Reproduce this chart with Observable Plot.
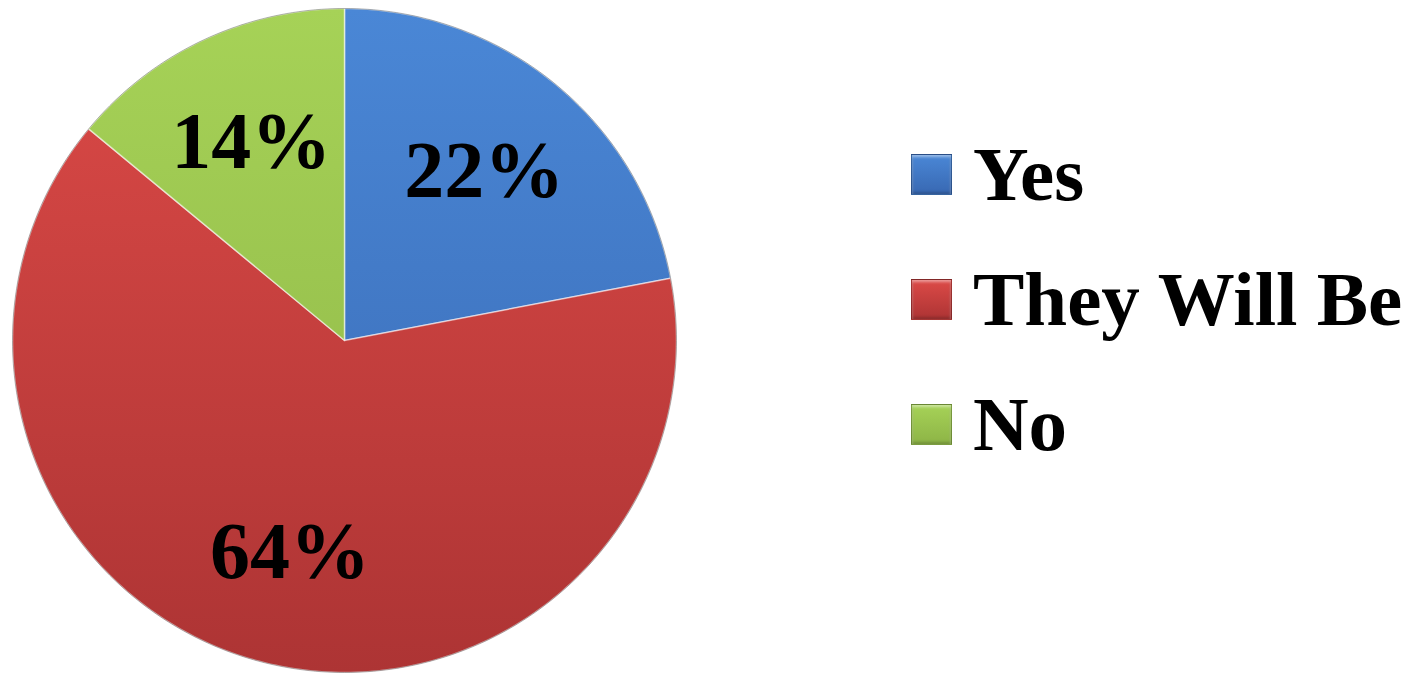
<!DOCTYPE html>
<html>
<head>
<meta charset="utf-8">
<script src="https://cdn.jsdelivr.net/npm/d3@7"></script>
<script src="https://cdn.jsdelivr.net/npm/@observablehq/plot@0.6"></script>
<style>
  html, body { margin: 0; padding: 0; background: #fff; }
  #wrap { position: relative; width: 1415px; height: 673px; overflow: hidden; }
  #legend { position: absolute; left: 911px; top: 112px; font-family: "Liberation Serif", serif; font-weight: bold; font-size: 77px; color: #000; }
  .item { display: flex; align-items: center; height: 125px; }
  .sw { width: 41px; height: 41px; margin-right: 21px; box-sizing: border-box; border: 1px solid rgba(0,0,0,0.25); box-shadow: inset 0 2px 3px rgba(255,255,255,0.45), inset 0 -2px 3px rgba(0,0,0,0.2); }
  .lab { line-height: 1; position: relative; top: 0px; }
</style>
</head>
<body>
<div id="wrap"><div id="legend"></div></div>
<script>
// Data
const categories = ["Yes", "They Will Be", "No"];
const values = [22, 64, 14];
const labels = ["22%", "64%", "14%"];
const colorsTop = ["#4A87D6", "#DC4A47", "#A6D257"];
const colorsBottom = ["#3868B2", "#AD3434", "#8DB446"];

const total = d3.sum(values);
const ends = d3.cumsum(values);
const slices = categories.map((c, i) => {
  const a0 = (ends[i] - values[i]) / total * 2 * Math.PI;
  const a1 = ends[i] / total * 2 * Math.PI;
  return {category: c, value: values[i], label: labels[i], a0, a1, i};
});

// arc polygons in unit coordinates (screen oriented: y down), clockwise from 12 o'clock
function slicePolygon(s) {
  const pts = [[0, 0]];
  const n = Math.max(8, Math.ceil((s.a1 - s.a0) / (Math.PI / 180)));
  for (let k = 0; k <= n; k++) {
    const a = s.a0 + (s.a1 - s.a0) * k / n;
    pts.push([Math.sin(a), -Math.cos(a)]);
  }
  pts.push([0, 0]);
  return {type: "Feature", properties: s, geometry: {type: "Polygon", coordinates: [pts]}};
}
const features = slices.map(slicePolygon);
const circle = {type: "Polygon", coordinates: [d3.range(0, 361).map(d => [Math.sin(d * Math.PI / 180), -Math.cos(d * Math.PI / 180)])]};

const labelPts = slices.map(s => {
  const m = (s.a0 + s.a1) / 2;
  const r = 0.66;
  return {label: s.label, x: r * Math.sin(m), y: -r * Math.cos(m)};
});

const chart = Plot.plot({
  width: 1415,
  height: 673,
  marginLeft: 12,
  marginTop: 8,
  marginRight: 739,
  marginBottom: 1,
  projection: {type: "identity", domain: circle},
  color: {type: "identity"},
  marks: [
    Plot.geo(features, {
      fill: d => `url(#grad${d.properties.i})`,
      stroke: "rgba(255,255,255,0.55)",
      strokeWidth: 1.5,
      strokeLinejoin: "round"
    }),
    Plot.geo([circle], {fill: "none", stroke: "rgba(90,90,90,0.45)", strokeWidth: 1}),
    Plot.text(labelPts, {
      x: "x", y: "y", text: "label",
      fontFamily: "Liberation Serif", fontWeight: "bold", fontSize: 80,
      fill: "#000", textAnchor: "middle", lineAnchor: "middle"
    })
  ]
});

// gradients for the office-like shading
const svgns = "http://www.w3.org/2000/svg";
const defs = document.createElementNS(svgns, "defs");
slices.forEach((s, i) => {
  const g = document.createElementNS(svgns, "linearGradient");
  g.setAttribute("id", "grad" + i);
  g.setAttribute("gradientUnits", "userSpaceOnUse");
  g.setAttribute("x1", "0"); g.setAttribute("y1", "8");
  g.setAttribute("x2", "0"); g.setAttribute("y2", "672");
  [["0", colorsTop[i]], ["1", colorsBottom[i]]].forEach(([o, c]) => {
    const st = document.createElementNS(svgns, "stop");
    st.setAttribute("offset", o);
    st.setAttribute("stop-color", c);
    g.appendChild(st);
  });
  defs.appendChild(g);
});
chart.insertBefore(defs, chart.firstChild);
document.getElementById("wrap").insertBefore(chart, document.getElementById("legend"));

// legend
const legend = document.getElementById("legend");
categories.forEach((c, i) => {
  const item = document.createElement("div");
  item.className = "item";
  const sw = document.createElement("div");
  sw.className = "sw";
  sw.style.background = `linear-gradient(${colorsTop[i]}, ${colorsBottom[i]})`;
  const lab = document.createElement("span");
  lab.className = "lab";
  lab.textContent = c;
  item.appendChild(sw);
  item.appendChild(lab);
  legend.appendChild(item);
});
</script>
</body>
</html>
